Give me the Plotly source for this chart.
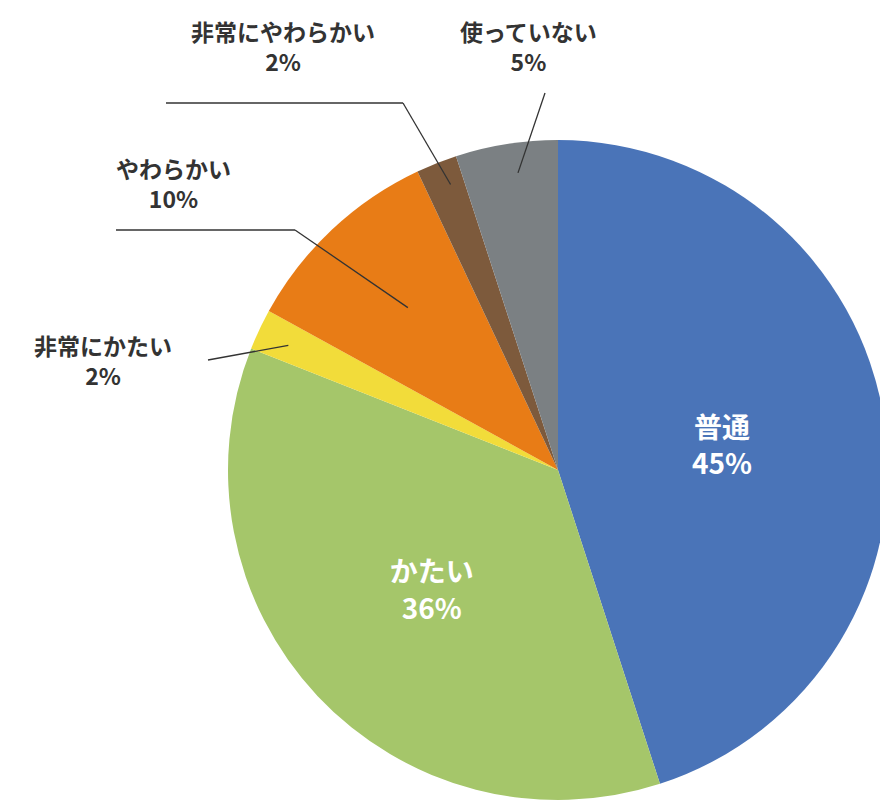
import numpy as np
import plotly.graph_objects as go

labels = ["普通", "かたい", "非常にかたい", "やわらかい", "非常にやわらかい", "使っていない"]
values = [45, 36, 2, 10, 2, 5]
colors = ["#4a74b8", "#a5c66a", "#f2dc3a", "#e87c16", "#7d5a3c", "#7b8083"]
inside = [True, True, False, False, False, False]

W, H = 888, 800
cx, cy, R = 558, 468, 330
# small correction for plotly's pie placement inside its domain
dx, dy = -8, -6

texts = [f"<b>{l}<br>{v}%</b>" if i else "" for l, v, i in zip(labels, values, inside)]

fig = go.Figure(go.Pie(
    labels=labels, values=values, sort=False, direction="clockwise", rotation=0,
    marker=dict(colors=colors, line=dict(color="white", width=0)),
    text=texts, textinfo="text", textposition="inside", insidetextorientation="horizontal",
    textfont=dict(color="white", size=28, family="Noto Sans CJK JP"),
    domain=dict(x=[(cx + dx - R) / W, (cx + dx + R) / W],
                y=[(H - cy - dy - R) / H, (H - cy - dy + R) / H]),
    showlegend=False, hoverinfo="label+value",
))

# outside label positions (pixels) and leader line elbows
label_pos = {2: (95, 352), 3: (165, 175), 4: (275, 38), 5: (520, 38)}
elbow = {2: (200, 352), 3: (287, 222), 4: (395, 95), 5: (537, 85)}
tail = {3: (108, 222), 4: (158, 95)}
radial = {2: 0.93, 3: 0.7, 4: 0.95, 5: 0.93}

def px(x, y):
    return x / W, 1 - y / H

cum = np.cumsum([0] + values)
for i in label_pos:
    mid = (cum[i] + cum[i + 1]) / 2 / sum(values) * 2 * np.pi
    r = R * radial[i]
    tx, ty = cx + r * np.sin(mid), cy - r * np.cos(mid)
    ex, ey = elbow[i]
    fig.add_shape(type="line", xref="paper", yref="paper",
                  x0=px(ex, ey)[0], y0=px(ex, ey)[1], x1=px(tx, ty)[0], y1=px(tx, ty)[1],
                  line=dict(color="#333333", width=1.3))
    if i in tail:
        sx, sy = tail[i]
        fig.add_shape(type="line", xref="paper", yref="paper",
                      x0=px(sx, sy)[0], y0=px(sx, sy)[1], x1=px(ex, ey)[0], y1=px(ex, ey)[1],
                      line=dict(color="#333333", width=1.3))
    lx, ly = label_pos[i]
    fig.add_annotation(x=px(lx, ly)[0], y=px(lx, ly)[1], xref="paper", yref="paper",
                       text=f"<b>{labels[i]}<br>{values[i]}%</b>", showarrow=False,
                       font=dict(size=23, color="#333333", family="Noto Sans CJK JP"),
                       xanchor="center", yanchor="middle")

fig.update_layout(width=W, height=H, margin=dict(l=0, r=0, t=0, b=0),
                  paper_bgcolor="white", font=dict(family="Noto Sans CJK JP"))
fig.write_html("out.html")
